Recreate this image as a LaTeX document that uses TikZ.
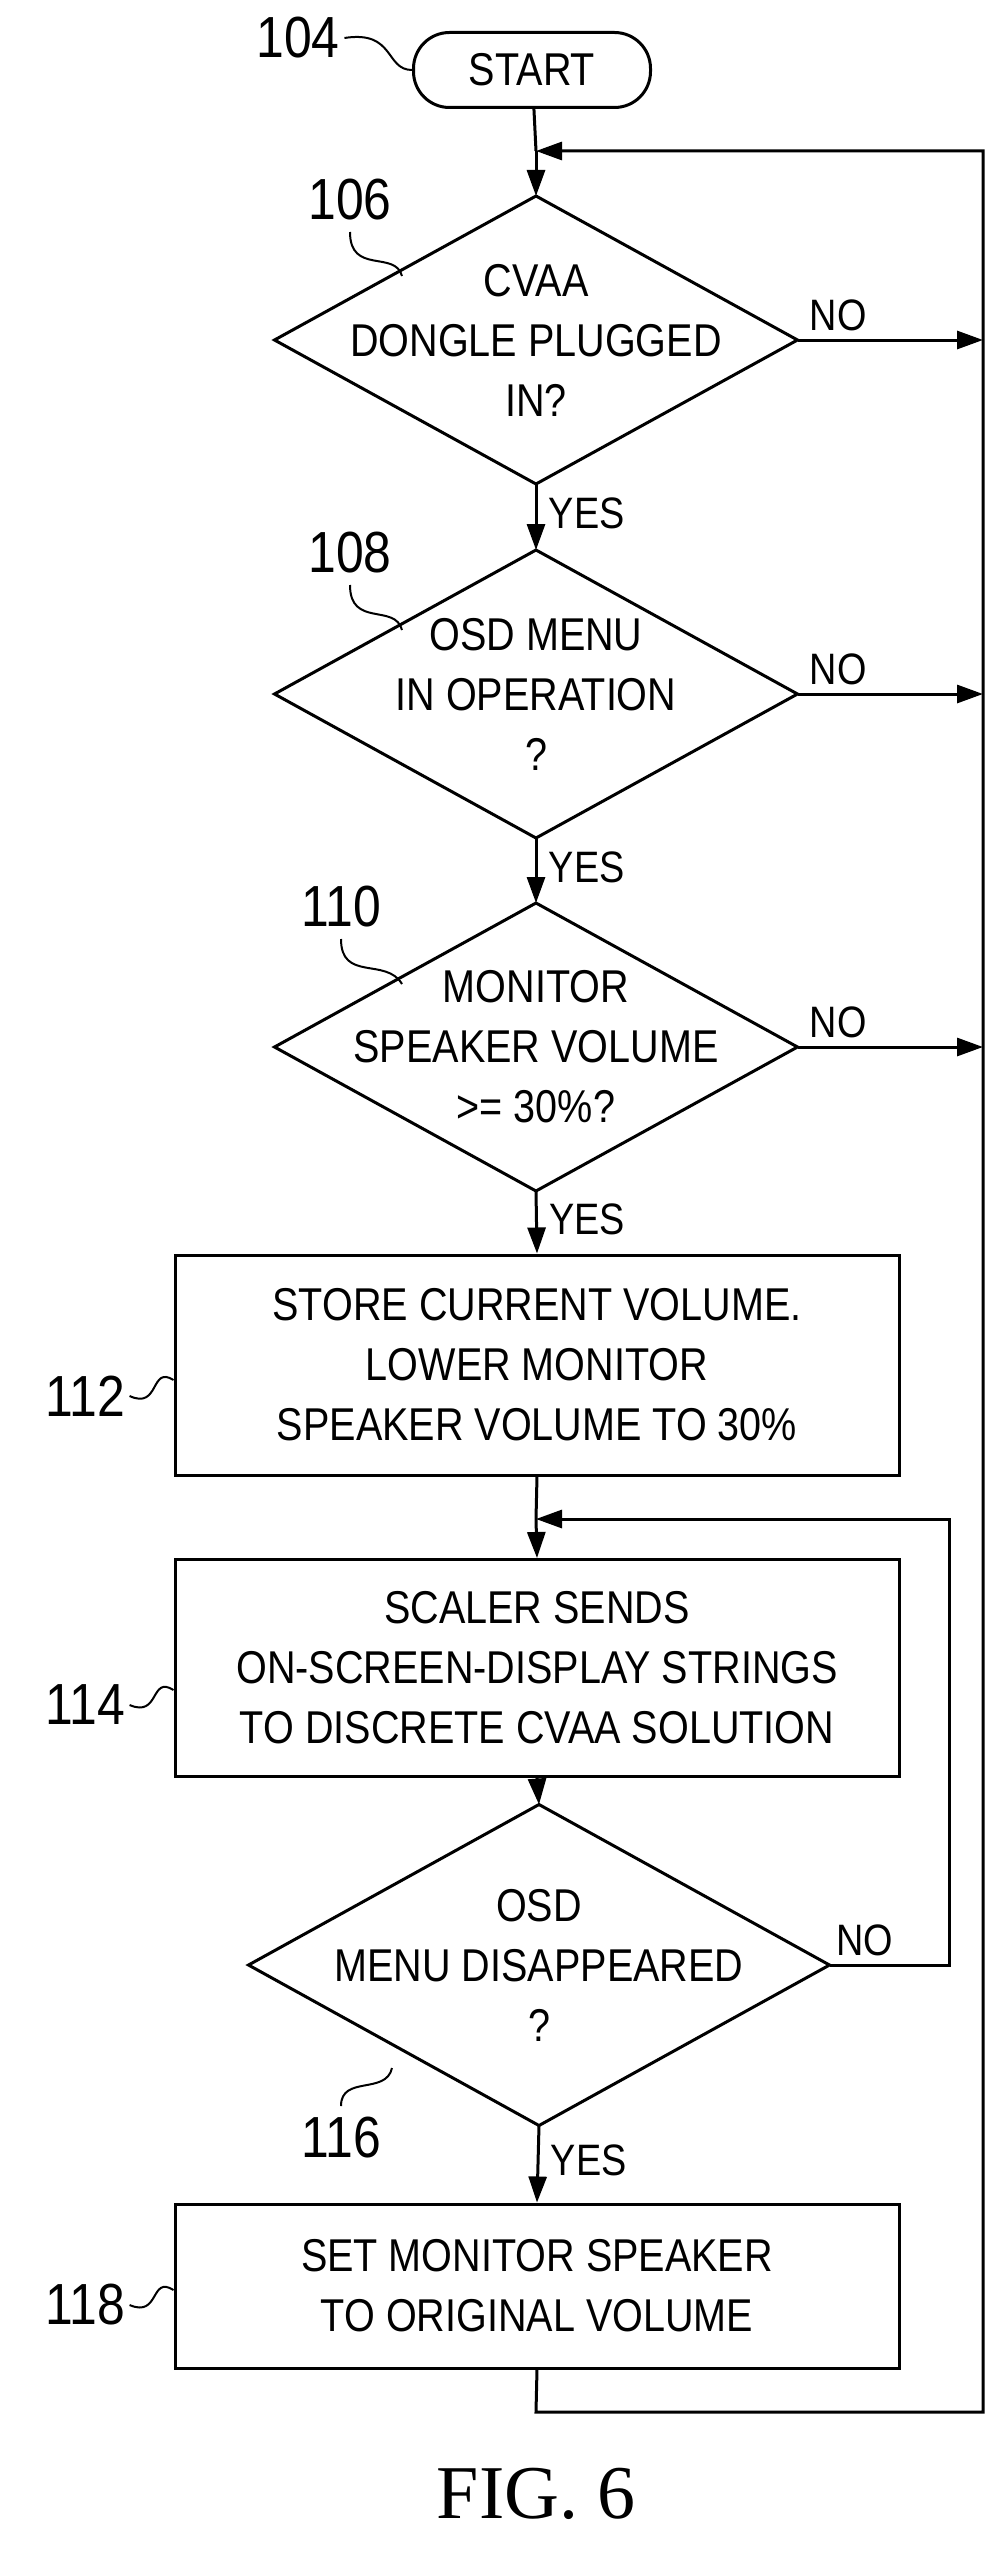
\documentclass[tikz,border=0pt]{standalone}
\usepackage{fontspec}
\setmainfont{Liberation Sans}[FakeStretch=0.86]
\newfontfamily\figfont{Liberation Serif}
\usetikzlibrary{positioning,arrows.meta,shapes.geometric}
\tikzset{
    >={Triangle[length=26pt,width=18pt]},
    txt/.style = {
        font=\fontsize{46}{60}\selectfont,
        align=center
    },
    decision/.style = {
        txt,
        shape=rectangle,
        minimum width=520pt,
        minimum height=285pt,
        inner sep=0pt,
        append after command={\pgfextra{\draw[line width=3pt, line join=miter]
            (\tikzlastnode.north) -- (\tikzlastnode.east) -- (\tikzlastnode.south)
            -- (\tikzlastnode.west) -- cycle;}}
    },
    process/.style = {
        txt,
        draw,
        shape=rectangle,
        minimum width=724pt,
        inner sep=0pt
    },
    terminal/.style = {
        txt,
        draw,
        shape=rectangle,
        rounded corners=36pt,
        minimum width=237pt,
        minimum height=75pt
    },
    refnum/.style = {
        font=\fontsize{58}{60}\selectfont
    },
    yesno/.style = {
        font=\fontsize{44}{50}\selectfont
    },
    leader/.style = {
        line width=2pt
    }
}

\begin{document}
\begin{tikzpicture}[x=1pt,y=-1pt,line width=3pt]
    \useasboundingbox (0,0) rectangle (999,2558);

    \node[terminal] (start) at (532,70) {START};
    \node[decision] (dongle) at (536,340) {CVAA\\DONGLE PLUGGED\\IN?};
    \node[decision] (osd) at (536,694) {OSD MENU\\IN OPERATION\\?};
    \node[decision] (volume) at (536,1047) {MONITOR\\SPEAKER VOLUME\\>= 30\%?};
    \node[process, minimum height=220pt] (store) at (537,1365) {STORE CURRENT VOLUME.\\LOWER MONITOR\\SPEAKER VOLUME TO 30\%};
    \node[process, minimum height=217pt] (scaler) at (537,1668) {SCALER SENDS\\ON-SCREEN-DISPLAY STRINGS\\TO DISCRETE CVAA SOLUTION};
    \node[decision, minimum width=578pt, minimum height=318pt] (gone) at (539,1965) {OSD\\MENU DISAPPEARED\\?};
    \node[process, minimum height=164pt] (restore) at (537,2286) {SET MONITOR SPEAKER\\TO ORIGINAL VOLUME};

    \coordinate (join) at (536,151);
    \coordinate (rtop) at (983,151);
    \coordinate (rbot) at (983,2412);
    \coordinate (lbot) at (536,2412);
    \coordinate (loopjoin) at (536,1519);
    \coordinate (looptop) at (949,1519);
    \coordinate (loopbot) at (949,1965);

    % main flow
    \draw (start) -- (join);
    \draw[->] (join) -- (dongle.north);
    \draw[->] (dongle.south) -- (osd.north) node[yesno, pos=0.45, right=8pt] {YES};
    \draw[->] (osd.south) -- (volume.north) node[yesno, pos=0.45, right=8pt] {YES};
    \draw[->] (volume.south) -- (store.north) node[yesno, pos=0.45, right=8pt] {YES};
    \draw (store.south) -- (loopjoin);
    \draw[->] (loopjoin) -- (scaler.north);
    \draw[->] (scaler.south) -- (gone.north);
    \draw[->] (gone.south) -- (restore.north) node[yesno, pos=0.45, right=8pt] {YES};

    % return path
    \draw[->] (restore.south) -- (lbot) -- (rbot) -- (rtop) -- (join);
    \draw[->] (dongle.east) -- (dongle.east -| rtop) node[yesno, pos=0.22, above=4pt] {NO};
    \draw[->] (osd.east) -- (osd.east -| rtop) node[yesno, pos=0.22, above=4pt] {NO};
    \draw[->] (volume.east) -- (volume.east -| rtop) node[yesno, pos=0.22, above=4pt] {NO};
    \draw[->] (gone.east) -- (loopbot) -- (looptop) -- (loopjoin);
    \node[yesno, above right=4pt and 2pt of gone.east] (gonenote) {NO};

    % reference numerals
    \node[refnum] (n104) at (298,38) {104};
    \node[refnum] (n106) at (350,200) {106};
    \node[refnum] (n108) at (350,553) {108};
    \node[refnum] (n110) at (341,907) {110};
    \node[refnum] (n112) at (85,1396) {112};
    \node[refnum] (n114) at (85,1705) {114};
    \node[refnum] (n116) at (341,2138) {116};
    \node[refnum] (n118) at (85,2305) {118};

    \draw[leader] (n104.east) .. controls (395,30) and (385,70) .. (start.west);
    \draw[leader] (350,232) .. controls (350,275) and (395,250) .. (402,276);
    \draw[leader] (350,585) .. controls (350,628) and (395,603) .. (402,630);
    \draw[leader] (341,939) .. controls (341,982) and (386,957) .. (402,984);
    \draw[leader] (n112.east) .. controls (160,1410) and (150,1365) .. (store.west |- 0,1380);
    \draw[leader] (n114.east) .. controls (160,1718) and (150,1675) .. (scaler.west |- 0,1690);
    \draw[leader] (341,2106) .. controls (341,2075) and (386,2095) .. (392,2068);
    \draw[leader] (n118.east) .. controls (160,2318) and (150,2275) .. (restore.west |- 0,2290);

    \node[font=\figfont\fontsize{76}{80}\selectfont] (fig) at (536,2494) {FIG. 6};
\end{tikzpicture}
\end{document}
